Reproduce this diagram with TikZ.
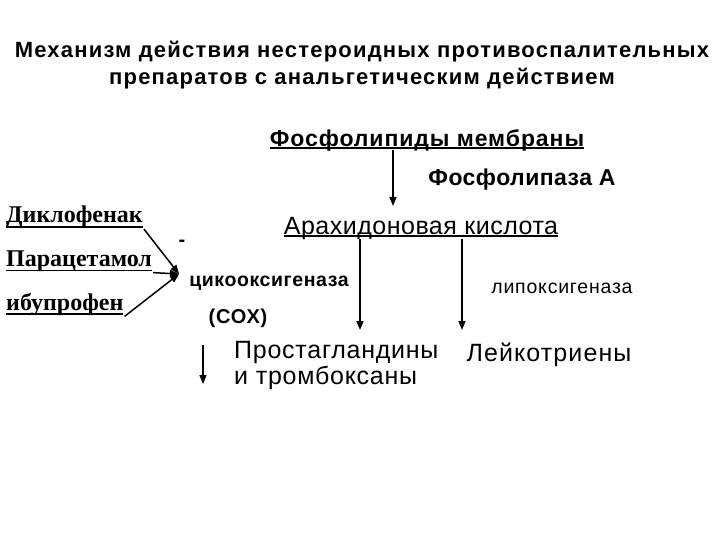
\documentclass[tikz,border=0pt]{standalone}
\usepackage{fontspec}
\setmainfont{Liberation Sans}
\newfontfamily\tnr{Liberation Serif}
\usetikzlibrary{arrows.meta,calc}
\newcommand{\ls}[1]{\addfontfeature{LetterSpace=#1}}
\newcommand{\myul}[2][3pt]{\setbox0\hbox{#2}\rlap{\raisebox{-#1}{\rule{\wd0}{1.6pt}}}\box0}
\tikzset{
  drug/.style={font=\tnr\bfseries\fontsize{24}{26}\selectfont, inner sep=1pt, anchor=west},
  arr/.style={line width=1.5pt, -{Triangle[length=9pt,width=7pt]}},
}
\begin{document}
\begin{tikzpicture}[x=1pt,y=-1pt]
\useasboundingbox (0,0) rectangle (720,540);
\node[font=\bfseries\fontsize{22}{27}\selectfont\ls{5.5}, align=center, inner sep=0pt] (title) at (362,65)
  {Механизм действия нестероидных противоспалительных\\препаратов с анальгетическим действием};
\node[font=\bfseries\fontsize{23}{26}\selectfont\ls{4}, inner sep=1pt] (fos) at (427,140) {\myul{Фосфолипиды мембраны}};
\node[font=\bfseries\fontsize{23}{26}\selectfont\ls{2}, inner sep=1pt] (pla) at (522,180) {Фосфолипаза А};
\node[font=\fontsize{25}{26}\selectfont\ls{2}, inner sep=1pt] (ara) at (421,228) {\myul{Арахидоновая кислота}};
\node[drug] (dik) at (5,217) {\myul[5pt]{Диклофенак}};
\node[drug] (par) at (5,261) {\myul[5pt]{Парацетамол}};
\node[drug] (ibu) at (5,304) {\myul[5pt]{ибупрофен}};
\node[font=\bfseries\fontsize{20}{22}\selectfont, inner sep=1pt] (minus) at (182,243) {-};
\node[font=\bfseries\fontsize{19.5}{22}\selectfont\ls{3}, inner sep=1pt] (cox) at (269,283) {цикооксигеназа};
\node[font=\bfseries\fontsize{20}{22}\selectfont\ls{4}, inner sep=1pt] (coxab) at (238,318) {(СОХ)};
\node[font=\fontsize{19.5}{22}\selectfont\ls{4}, inner sep=1pt] (lox) at (562,288) {липоксигеназа};
\node[font=\fontsize{25}{26}\selectfont\ls{3}, align=left, anchor=west, inner sep=1pt] (pg) at (233,365) {Простагландины\\и тромбоксаны};
\node[font=\fontsize{25}{26}\selectfont\ls{4.4}, inner sep=1pt] (lt) at (549,355) {Лейкотриены};
\coordinate (fosx) at (393,150);
\coordinate (aratop) at (393,206);
\coordinate (ara1) at (360,239);
\coordinate (ara2) at (462,239);
\coordinate (pgt) at (360,330);
\coordinate (ltt) at (462,330);
\coordinate (conv) at (179,274);
\coordinate (s1) at (203,345);
\coordinate (s2) at (203,384);
\draw[arr] (fosx) -- (aratop);
\draw[arr] (ara1) -- (pgt);
\draw[arr] (ara2) -- (ltt);
\draw[arr] (dik.south east) -- (conv);
\draw[arr] (par.south east) -- (conv);
\draw[arr] (ibu.south east) -- (conv);
\draw[arr] (s1) -- (s2);
\end{tikzpicture}
\end{document}
